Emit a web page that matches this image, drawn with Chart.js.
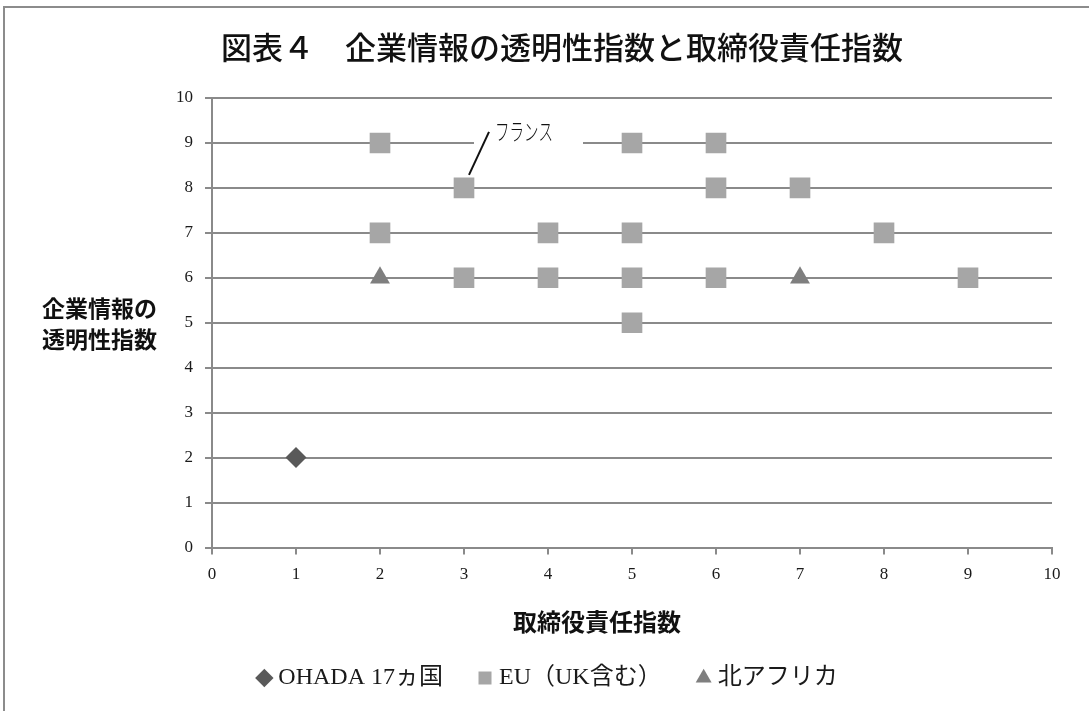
<!DOCTYPE html>
<html lang="ja">
<head>
<meta charset="utf-8">
<title>図表４　企業情報の透明性指数と取締役責任指数</title>
<script src="https://cdn.jsdelivr.net/npm/chart.js@4.4.1/dist/chart.umd.min.js"></script>
<style>
  html, body { margin: 0; padding: 0; background: #ffffff; overflow: hidden; }
  #wrap { position: relative; width: 1089px; height: 711px; overflow: hidden; }
  #frame { position: absolute; left: 3px; top: 6px; width: 1200px; height: 800px; border: 2px solid #8c8c8c; }
  #chart { position: absolute; left: 0; top: 0; }
</style>
</head>
<body>
<div id="wrap">
  <div id="frame"></div>
  <canvas id="chart" width="1089" height="711"></canvas>
</div>
<script>
// Text
const chartTitle = '図表４　企業情報の透明性指数と取締役責任指数';
const xTitle = '取締役責任指数';
const yTitleLines = ['企業情報の', '透明性指数'];
const seriesNames = ['OHADA 17ヵ国', 'EU（UK含む）', '北アフリカ'];
const noteText = 'フランス';
const notePoint = [3, 8];

// Axis range (both axes 0–10, step 1)
const axisMin = 0;
const axisMax = 10;
const axisStep = 1;

// Series values: x = 取締役責任指数, y = 企業情報の透明性指数
const ohadaX = [1];
const ohadaY = [2];
const euX = [2, 5, 6, 3, 6, 7, 2, 4, 5, 8, 3, 4, 5, 6, 9, 5];
const euY = [9, 9, 9, 8, 8, 8, 7, 7, 7, 7, 6, 6, 6, 6, 6, 5];
const naX = [2, 7];
const naY = [6, 6];

const toPoints = (xs, ys) => xs.map((x, i) => ({ x: x, y: ys[i] }));

const serif = '"Liberation Serif", "Noto Sans CJK JP", serif';
const gothic = '"Noto Sans CJK JP", sans-serif';
const gridColor = '#8a8a8a';

// Title, axis titles and the フランス callout drawn onto the chart canvas
const textPlugin = {
  id: 'chartTexts',
  afterDraw(chart) {
    const ctx = chart.ctx;
    const xs = chart.scales.x, ys = chart.scales.y;
    ctx.save();
    ctx.fillStyle = '#111111';
    ctx.textBaseline = 'middle';

    ctx.font = '500 31px ' + gothic;
    ctx.textAlign = 'center';
    ctx.fillText(chartTitle, 562, 47);

    ctx.font = 'bold 23px ' + gothic;
    ctx.textAlign = 'left';
    ctx.fillText(yTitleLines[0], 42, 308);
    ctx.fillText(yTitleLines[1], 42, 339);

    ctx.font = 'bold 24px ' + gothic;
    ctx.textAlign = 'center';
    ctx.fillText(xTitle, 597, 622);

    // callout for フランス
    const px = xs.getPixelForValue(notePoint[0]);
    const py = ys.getPixelForValue(notePoint[1]);
    const gy = ys.getPixelForValue(notePoint[1] + 1);
    ctx.fillStyle = '#ffffff';
    ctx.fillRect(px + 10, gy - 4, 109, 8);
    ctx.strokeStyle = '#111111';
    ctx.lineWidth = 2;
    ctx.beginPath();
    ctx.moveTo(px + 5, py - 13);
    ctx.lineTo(px + 25, py - 56);
    ctx.stroke();
    ctx.fillStyle = '#111111';
    ctx.translate(px + 31, py - 57);
    ctx.scale(0.66, 1.05);
    ctx.font = '300 22px ' + gothic;
    ctx.textAlign = 'left';
    ctx.fillText(noteText, 0, 0);
    ctx.restore();
  }
};

new Chart(document.getElementById('chart'), {
  type: 'scatter',
  data: {
    datasets: [
      {
        label: seriesNames[0],
        data: toPoints(ohadaX, ohadaY),
        pointStyle: 'rectRot',
        pointRadius: 10.5,
        pointHoverRadius: 10.5,
        backgroundColor: '#595959',
        borderColor: '#595959',
        borderWidth: 0
      },
      {
        label: seriesNames[1],
        data: toPoints(euX, euY),
        pointStyle: 'rect',
        pointRadius: 14.6,
        pointHoverRadius: 14.6,
        backgroundColor: '#a6a6a6',
        borderColor: '#a6a6a6',
        borderWidth: 0
      },
      {
        label: seriesNames[2],
        data: toPoints(naX, naY),
        pointStyle: 'triangle',
        pointRadius: 11.5,
        pointHoverRadius: 11.5,
        backgroundColor: '#7f7f7f',
        borderColor: '#7f7f7f',
        borderWidth: 0
      }
    ]
  },
  options: {
    responsive: false,
    animation: false,
    events: [],
    layout: { padding: { left: 48, right: 37, top: 98, bottom: 11 } },
    scales: {
      x: {
        type: 'linear',
        min: axisMin,
        max: axisMax,
        afterFit(scale) { scale.height = 78.5; },
        grid: { drawOnChartArea: false, drawTicks: true, tickLength: 7, color: gridColor, lineWidth: 2 },
        border: { display: true, color: gridColor, width: 2 },
        ticks: { stepSize: axisStep, padding: 10, color: '#1a1a1a', font: { family: serif, size: 17 }, maxRotation: 0 }
      },
      y: {
        type: 'linear',
        min: axisMin,
        max: axisMax,
        afterFit(scale) { scale.width = 164; },
        grid: { drawOnChartArea: true, drawTicks: true, tickLength: 7, color: gridColor, lineWidth: 2 },
        border: { display: true, color: gridColor, width: 2 },
        ticks: { stepSize: axisStep, padding: 12, color: '#1a1a1a', font: { family: serif, size: 17 } }
      }
    },
    plugins: {
      title: { display: false },
      tooltip: { enabled: false },
      legend: {
        display: true,
        position: 'bottom',
        labels: {
          usePointStyle: true,
          boxWidth: 4,
          boxHeight: 13,
          padding: 40,
          color: '#1a1a1a',
          font: { family: serif, size: 24 }
        }
      }
    }
  },
  plugins: [textPlugin]
});
</script>
</body>
</html>
